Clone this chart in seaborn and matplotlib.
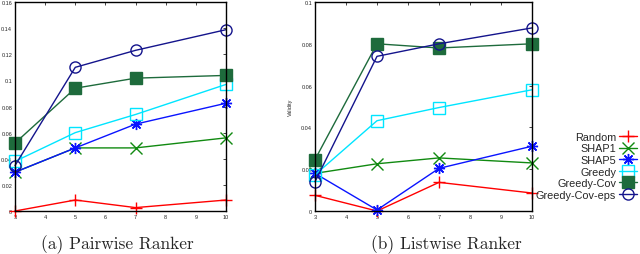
import matplotlib
matplotlib.use("Agg")
import matplotlib.pyplot as plt
import seaborn as sns
from matplotlib.lines import Line2D

sns.set_style("white")
plt.rcParams['font.family'] = ['Liberation Sans', 'DejaVu Sans']

ks = [3, 5, 7, 10]
series = ["Random", "SHAP1", "SHAP5", "Greedy", "Greedy-Cov", "Greedy-Cov-eps"]

pairwise = {
    "Random": [0.0, 0.0084, 0.0026, 0.0084],
    "SHAP1": [0.0297, 0.0483, 0.0483, 0.056],
    "SHAP5": [0.0297, 0.0483, 0.0665, 0.0825],
    "Greedy": [0.038, 0.060, 0.0739, 0.0969],
    "Greedy-Cov": [0.052, 0.094, 0.1017, 0.1038],
    "Greedy-Cov-eps": [0.0348, 0.110, 0.123, 0.1388],
}
listwise = {
    "Random": [0.0075, 0.0, 0.0137, 0.0086],
    "SHAP1": [0.018, 0.0226, 0.0254, 0.023],
    "SHAP5": [0.018, 0.0005, 0.0204, 0.031],
    "Greedy": [0.0173, 0.0432, 0.0495, 0.058],
    "Greedy-Cov": [0.0246, 0.080, 0.078, 0.080],
    "Greedy-Cov-eps": [0.014, 0.074, 0.080, 0.0876],
}

styles = {
    "Random": dict(color="#ff0000", marker="+", mfc="none"),
    "SHAP1": dict(color="#118a11", marker="x", mfc="none"),
    "SHAP5": dict(color="#0a14ff", marker=(8, 2, 0), mfc="none"),
    "Greedy": dict(color="#00e5ff", marker="s", mfc="none"),
    "Greedy-Cov": dict(color="#1e6b3c", marker="s", mfc="#1e6b3c"),
    "Greedy-Cov-eps": dict(color="#14148c", marker="o", mfc="none"),
}

fig = plt.figure(figsize=(6.4, 2.55), dpi=100)
ax1 = fig.add_axes([15 / 640, 1 - 212 / 255, 211 / 640, 209 / 255])
ax2 = fig.add_axes([315 / 640, 1 - 212 / 255, 217 / 640, 209 / 255])


def draw(ax, data, ymax, ystep):
    for name in series:
        st = styles[name]
        sns.lineplot(x=ks, y=data[name], ax=ax, color=st["color"], marker=st["marker"],
                     markerfacecolor=st["mfc"], markeredgecolor=st["color"],
                     markersize=8, markeredgewidth=1.0, linewidth=1.0, clip_on=False)
    ax.set_xlim(3, 10)
    ax.set_ylim(0, ymax)
    ax.set_xticks(range(3, 11))
    ticks = [round(i * ystep, 2) for i in range(int(round(ymax / ystep)) + 1)]
    ax.set_yticks(ticks)
    ax.set_yticklabels(["0" if t == 0 else f"{t:g}" for t in ticks])
    ax.tick_params(direction="in", length=2.5, width=0.6, labelsize=4, pad=2,
                   top=True, right=True)
    for s in ax.spines.values():
        s.set_linewidth(1.0)
        s.set_color("black")
    ax.set_xlabel("")
    ax.set_ylabel("")


draw(ax1, pairwise, 0.16, 0.02)
draw(ax2, listwise, 0.1, 0.02)
ax2.set_ylabel("Validity", fontsize=4, labelpad=6)

handles = [Line2D([0], [0], color=styles[n]["color"], marker=styles[n]["marker"],
                  markerfacecolor=styles[n]["mfc"], markeredgecolor=styles[n]["color"],
                  markersize=8, linewidth=1.0) for n in series]
fig.legend(handles, series, loc="upper right", bbox_to_anchor=(1.005, 0.505),
           frameon=False, markerfirst=False, fontsize=7.8, handlelength=1.6,
           handletextpad=0.3, labelspacing=0.15, borderpad=0.1)

fig.text(117 / 640, 1 - 245 / 255, "(a) Pairwise Ranker", ha="center", va="center",
         fontsize=12.5, family="cmr10")
fig.text(446 / 640, 1 - 245 / 255, "(b) Listwise Ranker", ha="center", va="center",
         fontsize=12.5, family="cmr10")

fig.savefig("out.png", dpi=100)
